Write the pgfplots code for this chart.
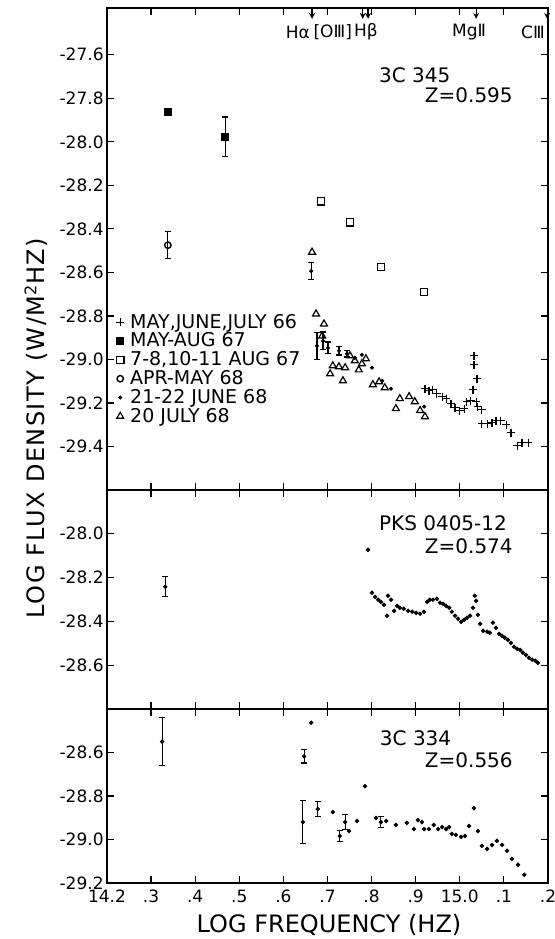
\documentclass[border=0pt]{standalone}
\usepackage{pgfplots}
\pgfplotsset{compat=1.18}
\usepackage{fontspec}
\setmainfont{DejaVu Sans}
\usetikzlibrary{arrows.meta}

\newcommand{\tickfont}{\fontsize{8.5}{8.5}\selectfont}
\newcommand{\panelfont}{\fontsize{10}{10}\selectfont}

\pgfplotsset{
  panel/.style={
    scale only axis, width=220.5pt,
    xmin=14.2, xmax=15.2,
    xtick={14.2,14.3,14.4,14.5,14.6,14.7,14.8,14.9,15.0,15.1,15.2},
    xticklabel=\empty,
    tick align=inside,
    major tick length=3.5pt,
    axis line style={line width=0.9pt},
    every tick/.style={black, line width=0.6pt},
    yticklabel style={font=\tickfont, inner sep=1.5pt},
    xticklabel style={font=\tickfont},
    clip=false,
    error bars/error bar style={line width=0.6pt},
    error bars/error mark options={rotate=90, mark size=1.6pt, line width=0.6pt},
  },
  dots/.style={only marks, mark=*, mark size=0.9pt, black},
}

\begin{document}
\begin{tikzpicture}
\useasboundingbox (-53.5pt,-28pt) rectangle (224pt,441.5pt);

% ---------- 3C 345 ----------
\begin{axis}[panel, at={(0pt,196.5pt)}, height=241pt,
  ymin=-29.6, ymax=-27.385,
  ytick={-29.4,-29.2,-29.0,-28.8,-28.6,-28.4,-28.2,-28.0,-27.8,-27.6},
  yticklabels={-29.4,-29.2,-29.0,-28.8,-28.6,-28.4,-28.2,-28.0,-27.8,-27.6},
  legend style={at={(0.02,0.367)}, anchor=north west, draw=none, fill=none,
    font=\fontsize{9.5}{9.5}\selectfont, row sep=0.6pt, inner sep=0pt,
    nodes={inner sep=0.5pt, text height=6.8pt, text depth=1pt},
    /tikz/every odd column/.style={column sep=2.5pt}},
  legend cell align=left,
  legend image code/.code={\draw[#1] plot coordinates {(0pt,0pt)};},
]
\addplot[only marks, mark=+, mark size=2pt, black, line width=0.6pt] coordinates {
(14.921,-29.135) (14.930,-29.144) (14.939,-29.139) (14.948,-29.157) (14.960,-29.171)
(14.969,-29.180) (14.980,-29.203) (14.989,-29.222) (15.000,-29.235) (15.010,-29.226)
(15.016,-29.194) (15.025,-29.190) (15.032,-28.983) (15.032,-29.025) (15.039,-29.089)
(15.030,-29.139) (15.037,-29.194) (15.041,-29.217) (15.050,-29.231) (15.050,-29.295)
(15.062,-29.295) (15.073,-29.290) (15.082,-29.281) (15.093,-29.281) (15.105,-29.300)
(15.116,-29.336) (15.130,-29.396) (15.141,-29.382) (15.155,-29.382)};
\addlegendentry{MAY,JUNE,JULY 66}
\addplot[only marks, mark=square*, mark size=1.7pt, black,
  error bars/.cd, y dir=both, y explicit] coordinates {
(14.468,-27.976) +- (0,0.09)};
\addlegendentry{MAY-AUG 67}
\addplot[only marks, mark=square, mark size=1.8pt, black, line width=0.7pt] coordinates {
(14.685,-28.273) (14.751,-28.370) (14.821,-28.576) (14.919,-28.690)};
\addlegendentry{7-8,10-11 AUG 67}
\addplot[only marks, mark=o, mark size=1.6pt, black, line width=0.7pt,
  error bars/.cd, y dir=both, y explicit] coordinates {
(14.338,-28.475) +- (0,0.062)};
\addlegendentry{APR-MAY 68}
\addplot[dots, mark size=0.8pt, error bars/.cd, y dir=both, y explicit] coordinates {
(14.663,-28.594) +- (0,0.039) (14.676,-28.938) +- (0,0.062) (14.690,-28.915) +- (0,0.041)
(14.701,-28.947) +- (0,0.027) (14.726,-28.960) +- (0,0.020) (14.744,-28.974) +- (0,0.015)};
\addlegendentry{21-22 JUNE 68}
\addplot[only marks, mark=triangle, mark size=2pt, black, line width=0.6pt] coordinates {
(14.665,-28.507) (14.674,-28.791) (14.692,-28.837) (14.688,-28.892) (14.706,-29.066)
(14.712,-29.029) (14.726,-29.034) (14.740,-29.038) (14.735,-29.098) (14.751,-28.983)
(14.762,-29.006) (14.778,-29.020) (14.787,-28.997) (14.771,-29.048) (14.803,-29.116)
(14.817,-29.103) (14.830,-29.130) (14.855,-29.226) (14.864,-29.180) (14.885,-29.171)
(14.898,-29.194) (14.910,-29.235) (14.921,-29.263)};
\addlegendentry{20 JULY 68}
\addplot[only marks, mark=square*, mark size=1.7pt, black, forget plot] coordinates {
(14.338,-27.861)};
\addplot[dots, mark size=0.8pt, forget plot] coordinates {
(14.762,-28.993) (14.778,-28.979) (14.801,-29.038) (14.824,-29.098) (14.844,-29.135)
(14.919,-29.217)};

\node[anchor=west, font=\panelfont] at (axis cs:14.801,-27.692) {3C 345};
\node[anchor=west, font=\panelfont] at (axis cs:14.905,-27.788) {Z=0.595};

\begin{scope}[font=\fontsize{8.5}{8.5}\selectfont]
\node at (axis cs:14.633,-27.495) {Hα};
\node at (axis cs:14.712,-27.495) {[OⅢ]};
\node at (axis cs:14.787,-27.495) {Hβ};
\node at (axis cs:15.021,-27.495) {MgⅡ};
\node at (axis cs:15.166,-27.495) {CⅢ};
\end{scope}
\begin{scope}[line width=0.6pt, -{Stealth[length=3pt,width=3pt]}]
\draw (axis cs:14.665,-27.385) -- (axis cs:14.665,-27.435);
\draw (axis cs:14.780,-27.385) -- (axis cs:14.780,-27.435);
\draw (axis cs:14.792,-27.385) -- (axis cs:14.792,-27.435);
\draw (axis cs:15.037,-27.385) -- (axis cs:15.037,-27.435);
\draw (axis cs:15.198,-27.385) -- (axis cs:15.198,-27.435);
\end{scope}
\end{axis}

% ---------- PKS 0405-12 ----------
\begin{axis}[panel, at={(0pt,87pt)}, height=109.5pt,
  ymin=-28.8, ymax=-27.8,
  ytick={-28.6,-28.4,-28.2,-28.0},
  yticklabels={-28.6,-28.4,-28.2,-28.0},
]
\addplot[dots, error bars/.cd, y dir=both, y explicit] coordinates {
(14.332,-28.242) +- (0,0.046)};
\addplot[dots] coordinates {
(14.792,-28.073)
(14.801,-28.269) (14.808,-28.288) (14.815,-28.301) (14.821,-28.311) (14.828,-28.324)
(14.835,-28.374) (14.837,-28.283) (14.844,-28.301) (14.851,-28.352) (14.858,-28.329)
(14.864,-28.338) (14.873,-28.342) (14.883,-28.352) (14.892,-28.356) (14.901,-28.361)
(14.910,-28.365) (14.919,-28.356) (14.926,-28.311) (14.932,-28.301) (14.939,-28.301)
(14.948,-28.297) (14.955,-28.315) (14.962,-28.320) (14.969,-28.329) (14.976,-28.338)
(14.982,-28.356) (14.989,-28.374) (14.996,-28.388) (15.003,-28.402) (15.010,-28.393)
(15.016,-28.384) (15.023,-28.374) (15.030,-28.338) (15.034,-28.283) (15.037,-28.306)
(15.041,-28.370) (15.046,-28.411) (15.053,-28.443) (15.062,-28.447) (15.068,-28.452)
(15.075,-28.406) (15.082,-28.429) (15.089,-28.457) (15.096,-28.466) (15.102,-28.475)
(15.109,-28.484) (15.116,-28.498) (15.123,-28.516) (15.130,-28.525) (15.137,-28.530)
(15.143,-28.543) (15.150,-28.553) (15.157,-28.566) (15.164,-28.575) (15.171,-28.580)
(15.177,-28.589)};
\node[anchor=west, font=\panelfont] at (axis cs:14.801,-27.950) {PKS 0405-12};
\node[anchor=west, font=\panelfont] at (axis cs:14.905,-28.055) {Z=0.574};
\end{axis}

% ---------- 3C 334 ----------
\begin{axis}[panel, at={(0pt,0pt)}, height=87pt,
  ymin=-29.2, ymax=-28.4,
  ytick={-29.2,-29.0,-28.8,-28.6},
  yticklabels={-29.2,-29.0,-28.8,-28.6},
  xticklabels={14.2,.3,.4,.5,.6,.7,.8,.9,15.0,.1,.2},
]
\addplot[dots, error bars/.cd, y dir=both, y explicit] coordinates {
(14.325,-28.550) +- (0,0.11) (14.647,-28.618) +- (0,0.03) (14.644,-28.920) +- (0,0.10)
(14.678,-28.860) +- (0,0.035) (14.728,-28.984) +- (0,0.025) (14.740,-28.920) +- (0,0.035)
(14.821,-28.920) +- (0,0.025)};
\addplot[dots] coordinates {
(14.663,-28.463) (14.712,-28.874) (14.749,-28.961) (14.767,-28.915) (14.785,-28.755)
(14.810,-28.901) (14.833,-28.915) (14.855,-28.933) (14.880,-28.924) (14.896,-28.952)
(14.905,-28.911) (14.914,-28.920) (14.919,-28.952) (14.930,-28.952) (14.941,-28.933)
(14.951,-28.952) (14.960,-28.943) (14.969,-28.952) (14.976,-28.943) (14.982,-28.974)
(14.991,-28.979) (15.003,-28.988) (15.012,-28.984) (15.021,-28.938) (15.032,-28.856)
(15.041,-28.961) (15.050,-29.029) (15.062,-29.043) (15.073,-29.025) (15.084,-29.006)
(15.096,-29.025) (15.107,-29.052) (15.118,-29.089) (15.132,-29.116) (15.146,-29.162)};
\node[anchor=west, font=\panelfont] at (axis cs:14.803,-28.536) {3C 334};
\node[anchor=west, font=\panelfont] at (axis cs:14.905,-28.637) {Z=0.556};
\end{axis}

\node[anchor=base, font=\fontsize{12}{12}\selectfont] at (111pt,-24.5pt) {LOG FREQUENCY (HZ)};
\node[anchor=base, rotate=90, font=\fontsize{12}{12}\selectfont\addfontfeature{LetterSpace=6}]
  at (-31pt,227.5pt) {LOG FLUX DENSITY (W/M\textsuperscript{2}HZ)};
\end{tikzpicture}
\end{document}
